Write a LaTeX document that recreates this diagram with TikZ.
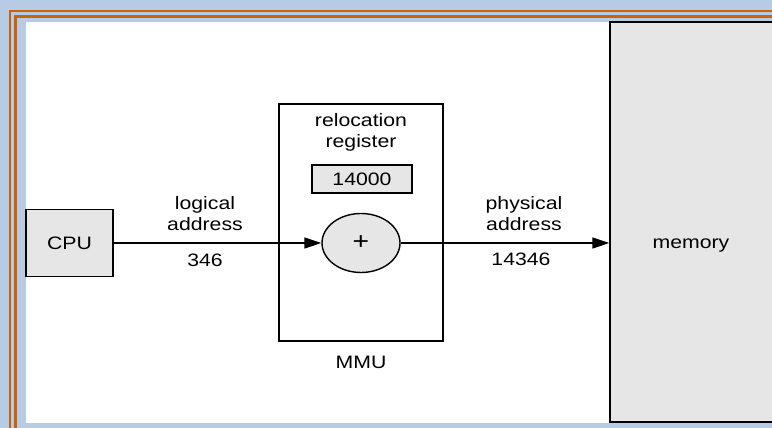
\documentclass[tikz,border=0pt]{standalone}
\usepackage{fontspec}
\setmainfont{Liberation Sans}[FakeStretch=1.18]
\usetikzlibrary{arrows.meta,shapes.geometric}
\definecolor{bgblue}{RGB}{183,204,228}
\definecolor{rimorange}{RGB}{204,98,8}
\definecolor{boxgray}{RGB}{230,230,230}
\tikzset{
  unit/.style={draw, line width=1.4pt, fill=boxgray, inner sep=0pt},
  flow/.style={line width=1.4pt, -{Triangle[length=17pt,width=11pt]}},
  rim/.style={rimorange, line width=2.8pt}
}
\begin{document}
\begin{tikzpicture}[x=1pt,y=1pt,font=\fontsize{18}{21}\selectfont]
            \clip (0,0) rectangle (772,428);
            \fill[bgblue] (0,0) rectangle (772,428);
            \draw[rim] (10,0) -- (10,417) -- (772,417);
            \draw[rim] (15.5,0) -- (15.5,411.5) -- (772,411.5);
            \fill[white] (26,5) rectangle (772,406);
            \node[unit, minimum width=163, minimum height=400] (mem) at (691.5,206) {};
            \node (memtxt) at (691,182) {memory};
            \node[unit, minimum width=87, minimum height=67] (cpu) at (69.5,185) {CPU};
            \node[draw, line width=1.4pt, inner sep=0pt, minimum width=164, minimum height=237] (mmu) at (361,205.5) {};
            \node[unit, ellipse, minimum width=78, minimum height=59, font=\fontsize{24}{24}\selectfont] (adder) at (361,185) {+};
            \node[unit, minimum width=100, minimum height=28] (reg) at (362,249) {14000};
            \node[align=center] (regname) at (361,295.5) {relocation\\register};
            \node (mmuname) at (361,66) {MMU};
            \node[align=center] (logaddr) at (205,214) {logical\\address};
            \node (logval) at (205,168) {346};
            \node[align=center] (phyaddr) at (524,214) {physical\\address};
            \node (phyval) at (521,169) {14346};
            \draw[flow] (cpu) -- (adder);
            \draw[flow] (adder) -- (mem.west |- adder);
        \end{tikzpicture}
\end{document}
